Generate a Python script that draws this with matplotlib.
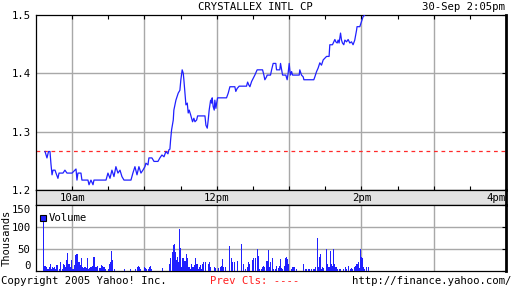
import matplotlib
matplotlib.use('Agg')
import matplotlib.pyplot as plt

# ---- data (minutes after 9:30am) ----
price_min = [7.5, 9.1, 10.4, 11.6, 12.4, 13.3, 14.1, 15.8, 16.6, 18.2, 19.1, 22.4, 24.0, 25.7, 29.9,
             33.2, 34.0, 34.8, 37.3, 38.1, 43.1, 44.0, 45.6, 47.3, 48.1, 58.1, 58.9, 59.7, 61.4, 63.0,
             64.7, 66.3, 68.0, 69.7, 71.3, 73.0, 78.8, 80.4, 82.1, 83.8, 85.4, 87.1, 88.7, 90.4, 91.2,
             92.9, 93.7, 96.2, 97.9, 101.2, 102.8, 104.5, 106.2, 107.8, 109.5, 110.3, 111.1, 111.7,
             112.5, 113.9, 114.4, 116.1, 118.0, 119.4, 120.2, 121.3, 122.2, 122.7, 123.6, 124.4, 125.5,
             126.3, 127.1, 128.3, 129.1, 129.9, 131.0, 131.9, 133.3, 134.1, 140.2, 141.0, 142.1, 142.9,
             143.7, 144.9, 145.7, 146.2, 147.0, 147.9, 148.4, 149.3, 149.9, 150.7, 158.1, 159.5, 160.9,
             165.0, 165.8, 166.9, 168.6, 174.7, 175.6, 176.6, 177.5, 178.9, 180.8, 181.6, 183.5, 188.0,
             189.1, 189.9, 191.3, 191.8, 194.6, 195.5, 196.8, 199.0, 199.6, 202.3, 202.9, 203.8, 204.6,
             207.3, 208.4, 209.2, 210.1, 210.6, 211.2, 212.1, 212.9, 218.4, 218.9, 220.3, 221.7, 222.3,
             230.5, 231.4, 232.8, 234.1, 235.5, 236.9, 237.8, 238.3, 239.7, 241.1, 243.2, 243.8, 244.6,
             246.0, 247.1, 248.0, 248.8, 249.9, 250.7, 251.5, 252.7, 253.5, 254.3, 255.4, 256.3, 257.7,
             259.0, 260.4, 261.8, 263.1, 264.5, 266.0, 266.4, 268.7, 270.1, 271.4, 272.8, 275.0]
price_val = [1.266, 1.255, 1.266, 1.266, 1.245, 1.226, 1.234, 1.234, 1.229, 1.220, 1.229, 1.229, 1.234,
             1.229, 1.229, 1.236, 1.217, 1.229, 1.229, 1.217, 1.217, 1.209, 1.217, 1.209, 1.217, 1.217,
             1.223, 1.229, 1.220, 1.234, 1.223, 1.240, 1.229, 1.234, 1.223, 1.217, 1.217, 1.229, 1.240,
             1.226, 1.240, 1.229, 1.234, 1.240, 1.246, 1.243, 1.255, 1.255, 1.249, 1.249, 1.255, 1.260,
             1.257, 1.266, 1.262, 1.269, 1.270, 1.286, 1.303, 1.320, 1.337, 1.354, 1.366, 1.371, 1.389,
             1.406, 1.400, 1.389, 1.366, 1.346, 1.349, 1.332, 1.337, 1.329, 1.323, 1.317, 1.323, 1.317,
             1.320, 1.327, 1.327, 1.311, 1.306, 1.320, 1.337, 1.354, 1.349, 1.358, 1.343, 1.337, 1.354,
             1.340, 1.349, 1.358, 1.358, 1.366, 1.377, 1.377, 1.369, 1.374, 1.378, 1.378, 1.385, 1.380,
             1.377, 1.386, 1.394, 1.397, 1.406, 1.406, 1.397, 1.389, 1.394, 1.397, 1.397, 1.406, 1.417,
             1.417, 1.406, 1.406, 1.417, 1.406, 1.397, 1.397, 1.389, 1.400, 1.417, 1.406, 1.397, 1.403,
             1.397, 1.397, 1.406, 1.397, 1.394, 1.389, 1.389, 1.394, 1.403, 1.409, 1.418, 1.414, 1.420,
             1.423, 1.426, 1.429, 1.429, 1.449, 1.449, 1.449, 1.454, 1.458, 1.454, 1.452, 1.457, 1.452,
             1.469, 1.457, 1.452, 1.449, 1.457, 1.454, 1.458, 1.452, 1.454, 1.449, 1.457, 1.474, 1.480,
             1.480, 1.489, 1.497, 1.500, 1.505]

vol_min = [6.1, 6.6, 7.5, 8.3, 9.1, 10.2, 11.1, 11.9, 12.7, 13.8, 14.6, 15.5, 16.6, 17.4, 18.0, 19.3,
           20.7, 22.1, 22.9, 23.8, 24.6, 25.4, 26.3, 27.1, 27.9, 28.7, 29.6, 30.4, 31.2, 32.3, 33.2, 34.0,
           34.8, 35.7, 36.8, 37.9, 38.7, 39.5, 40.4, 41.2, 42.0, 42.8, 43.7, 44.8, 45.6, 46.4, 47.3, 48.1,
           48.9, 49.8, 50.6, 51.4, 52.5, 53.3, 54.2, 55.0, 55.8, 56.7, 57.5, 60.3, 61.1, 62.2, 63.0, 63.8,
           65.0, 73.2, 78.2, 82.9, 84.0, 84.9, 85.7, 86.5, 89.8, 90.7, 92.0, 93.1, 94.0, 94.8, 95.6, 105.3,
           110.8, 111.7, 113.3, 114.2, 115.0, 115.8, 116.6, 117.5, 118.3, 119.1, 120.0, 120.8, 121.6,
           122.4, 123.3, 124.1, 124.9, 125.8, 126.6, 127.4, 128.2, 129.1, 129.9, 130.7, 131.6, 132.4,
           133.2, 134.1, 134.9, 135.7, 136.5, 137.4, 138.2, 139.0, 141.0, 143.5, 144.3, 145.1, 148.4,
           149.3, 151.2, 153.4, 154.2, 155.1, 155.9, 157.6, 160.9, 162.5, 163.4, 165.0, 167.5, 170.8,
           172.5, 173.9, 175.2, 176.6, 177.5, 179.9, 180.8, 182.4, 183.5, 184.4, 185.8, 187.1, 188.2,
           189.1, 189.9, 191.6, 192.4, 193.2, 194.0, 194.9, 196.5, 197.4, 199.0, 199.8, 201.5, 202.3,
           203.2, 204.0, 204.8, 206.5, 207.3, 208.1, 209.0, 209.8, 212.0, 212.8, 213.7, 214.5, 216.2,
           222.2, 223.6, 224.4, 226.4, 227.2, 228.6, 230.3, 231.4, 232.2, 233.8, 234.7, 235.5, 236.3,
           237.2, 238.0, 238.8, 240.8, 241.6, 242.4, 243.5, 244.4, 245.5, 246.3, 247.1, 247.9, 248.8,
           249.6, 250.4, 251.5, 252.9, 254.9, 256.5, 257.9, 259.6, 260.9, 262.0, 262.9, 264.5, 265.4,
           266.2, 267.0, 267.8, 268.7, 269.5, 270.3, 271.2, 272.0, 272.8, 274.2, 275.6]
vol_k = [125, 51, 11, 10, 5, 5, 10, 17, 5, 10, 6, 10, 5, 14, 5, 5,
         21, 5, 15, 14, 8, 25, 42, 17, 15, 10, 25, 5, 5, 14, 36, 38,
         10, 21, 14, 29, 10, 6, 8, 10, 6, 29, 5, 6, 10, 10, 12, 32,
         15, 10, 6, 12, 6, 6, 14, 11, 8, 10, 5, 5, 17, 20, 45, 25,
         5, 5, 5, 5, 8, 12, 8, 5, 10, 6, 5, 5, 8, 12, 5, 6,
         17, 29, 44, 59, 61, 44, 25, 32, 21, 95, 53, 10, 29,
         29, 23, 23, 38, 29, 10, 10, 5, 17, 10, 10, 14, 29,
         15, 17, 5, 8, 14, 5, 15, 20, 20, 17, 20, 8, 8,
         6, 6, 10, 11, 27, 8, 10, 57, 30, 21, 20, 23, 61,
         17, 5, 8, 20, 15, 25, 29, 29, 49, 35, 5, 5, 10,
         12, 10, 23, 23, 48, 8, 20, 29, 5, 5, 12, 6, 12,
         27, 6, 5, 12, 30, 32, 27, 15, 5, 9, 9, 9, 5,
         17, 5, 5, 5, 5, 5, 5, 5, 9, 74, 10, 32, 38,
         5, 10, 6, 50, 15, 9, 9, 45, 17, 12, 51, 17, 8,
         8, 5, 5, 5, 5, 9, 5, 12, 5, 6, 5, 9, 12,
         15, 17, 20, 6, 50, 32, 30, 10, 5, 9, 9]

prev_close = 1.267
price_ticks = [1.2, 1.3, 1.4, 1.5]
vol_ticks = [0, 50, 100, 150]
time_labels = ['10am', '12pm', '2pm', '4pm']
time_label_pos = [30, 150, 270, 390]
hour_grid = [30, 90, 150, 210, 270, 330]
half_hours = [30 * i for i in range(1, 14)]

title = 'CRYSTALLEX INTL CP'
stamp = '30-Sep 2:05pm'

BLUE = '#2020ff'
GRID = '#a8a8a8'
FONT = 'DejaVu Sans Mono'
FS = 7.3

W, H = 512, 288
fig = plt.figure(figsize=(W / 100, H / 100), dpi=100)
fig.patch.set_facecolor('white')


def ax_px(l, t, r, b):
    return fig.add_axes([l / W, 1 - b / H, (r - l) / W, (b - t) / H])


# ---- price panel ----
ax = ax_px(36, 15, 506, 190)
ax.set_xlim(0, 390)
ax.set_ylim(1.2, 1.5)
for h in hour_grid:
    ax.axvline(h, color=GRID, lw=1.0, zorder=1)
for v in price_ticks[1:-1]:
    ax.axhline(v, color=GRID, lw=1.0, zorder=1)
ax.axhline(prev_close, color='#ff2a2a', lw=0.9, ls=(0, (3, 3)), zorder=2)
ax.plot(price_min, price_val, color=BLUE, lw=0.9, zorder=3, clip_on=True)
ax.set_xticks(half_hours)
ax.set_yticks(price_ticks)
ax.set_yticklabels([f'{v:.1f}' for v in price_ticks], fontsize=FS + 0.4, family=FONT)
ax.tick_params(axis='x', direction='in', length=3, top=True, bottom=True, labelbottom=False, width=0.8)
ax.tick_params(axis='y', direction='in', length=3, left=False, right=True, pad=4, width=0.8)
for s in ax.spines.values():
    s.set_linewidth(0.9)
ax.spines['right'].set_linewidth(2.0)

# ---- time band ----
band = ax_px(36, 190, 506, 205)
band.set_facecolor('#e2e2e2')
band.set_xlim(0, 390)
band.set_ylim(0, 1)
band.set_xticks([])
band.set_yticks([])
for s in band.spines.values():
    s.set_linewidth(0.9)
band.spines['right'].set_linewidth(2.0)
for lab, pos in zip(time_labels, time_label_pos):
    ha = 'right' if pos >= 390 else 'center'
    band.text(pos, 0.45, lab, ha=ha, va='center', fontsize=FS + 0.4, family=FONT)

# ---- volume panel ----
vax = ax_px(36, 205, 506, 271)
vax.set_xlim(0, 390)
vax.set_ylim(0, 150)
for h in hour_grid:
    vax.axvline(h, color=GRID, lw=1.0, zorder=1)
for v in vol_ticks[1:-1]:
    vax.axhline(v, color=GRID, lw=1.0, zorder=1)
vax.bar(vol_min, vol_k, width=0.9, color=BLUE, zorder=3, linewidth=0)
vax.set_xticks([])
vax.set_yticks(vol_ticks)
vax.set_yticklabels([str(v) for v in vol_ticks], fontsize=FS + 0.4, family=FONT)
vax.tick_params(axis='y', direction='in', length=3, left=False, right=True, pad=4, width=0.8)
for s in vax.spines.values():
    s.set_linewidth(0.9)
vax.spines['right'].set_linewidth(2.0)
for lbl in vax.get_yticklabels():
    if lbl.get_text() == '150':
        lbl.set_va('top')
    if lbl.get_text() == '0':
        lbl.set_va('bottom')
fig.text(7 / W, 1 - 238 / H, 'Thousands', rotation=90, ha='center', va='center',
         fontsize=FS + 0.2, family=FONT)
# legend square
vax.add_patch(plt.Rectangle((0.009, 0.76), 0.012, 0.09, transform=vax.transAxes,
                            facecolor=BLUE, edgecolor='black', lw=0.8, zorder=5))
vax.text(0.027, 0.80, 'Volume', transform=vax.transAxes, fontsize=FS + 0.4,
         family=FONT, va='center', ha='left', zorder=5)

# ---- header / footer text ----
fig.text(255 / W, 1 - 7 / H, title, ha='center', va='center', fontsize=FS + 0.4, family=FONT)
fig.text(505 / W, 1 - 7 / H, stamp, ha='right', va='center', fontsize=FS + 0.4, family=FONT)
fig.text(1 / W, 1 - 281 / H, 'Copyright 2005 Yahoo! Inc.', ha='left', va='center',
         fontsize=FS + 0.4, family=FONT)
fig.text(210 / W, 1 - 281 / H, 'Prev Cls: ----', ha='left', va='center',
         fontsize=FS + 0.4, family=FONT, color='#ff2020')
fig.text(511 / W, 1 - 281 / H, 'http://finance.yahoo.com/', ha='right', va='center',
         fontsize=FS + 0.4, family=FONT)

fig.savefig('out.png', dpi=100)
